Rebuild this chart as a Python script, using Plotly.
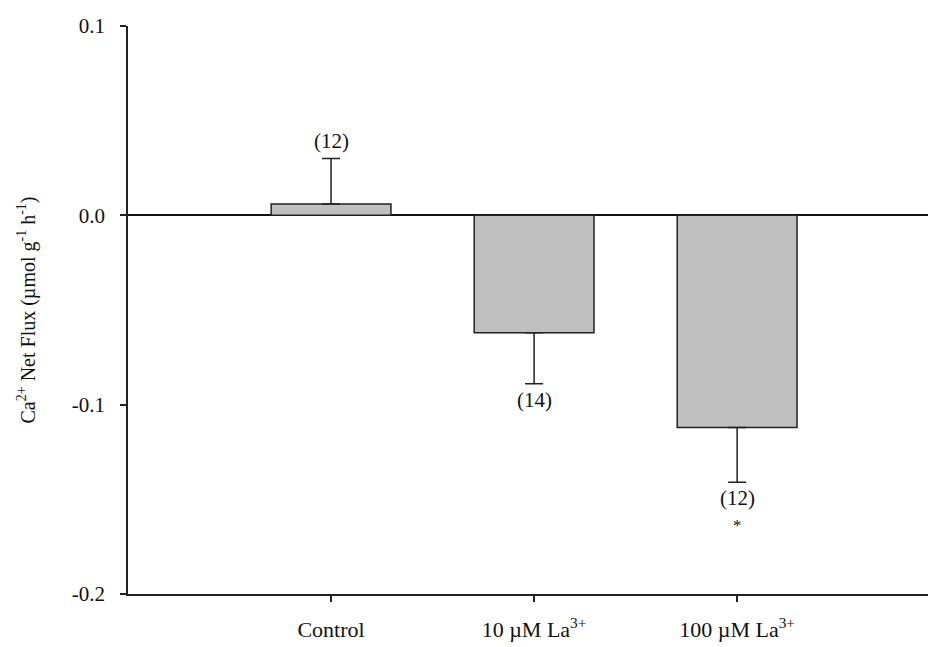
import plotly.graph_objects as go

categories = ["Control", "10 µM La<sup>3+</sup>", "100 µM La<sup>3+</sup>"]
means = [0.006, -0.062, -0.112]
err_up = [0.024, 0.0, 0.0]
err_down = [0.0, 0.027, 0.029]
n_labels = ["(12)", "(14)", "(12)"]
sig_labels = ["", "", "*"]
ytick_vals = [0.1, 0.0, -0.1, -0.2]
ytick_text = ["0.1", "0.0", "-0.1", "-0.2"]

font_family = "Liberation Serif"

fig = go.Figure()
fig.add_trace(go.Bar(
    x=list(range(len(categories))),
    y=means,
    width=0.59,
    marker=dict(color="#c0c0c0", line=dict(color="#222222", width=1.5)),
    error_y=dict(type="data", symmetric=False, array=err_up, arrayminus=err_down,
                 color="#222222", thickness=1.5, width=9),
    showlegend=False,
))

for i, (m, eu, ed, nl, sl) in enumerate(zip(means, err_up, err_down, n_labels, sig_labels)):
    if m >= 0:
        fig.add_annotation(x=i, y=m + eu, text=nl, showarrow=False,
                           yanchor="bottom", yshift=4, font=dict(size=21, color="#111111"))
    else:
        fig.add_annotation(x=i, y=m - ed, text=nl, showarrow=False,
                           yanchor="top", yshift=-2, font=dict(size=21, color="#111111"))
        if sl:
            fig.add_annotation(x=i, y=m - ed, text=sl, showarrow=False,
                               yanchor="top", yshift=-32, font=dict(size=17, color="#111111"))

fig.update_layout(
    width=928, height=647,
    margin=dict(l=128, r=0, t=26, b=53),
    plot_bgcolor="white", paper_bgcolor="white",
    font=dict(family=font_family, size=21, color="#111111"),
    xaxis=dict(
        range=[-1.0, 2.94],
        tickvals=list(range(len(categories))),
        ticktext=categories,
        showline=True, linecolor="#222222", linewidth=1.5,
        ticks="outside", ticklen=6, tickwidth=1.5, tickcolor="#222222",
        showgrid=False, zeroline=False,
        tickfont=dict(size=22),
        ticklabelstandoff=9,
    ),
    yaxis=dict(
        range=[-0.2, 0.1],
        tickvals=ytick_vals, ticktext=ytick_text,
        showline=True, linecolor="#222222", linewidth=1.5,
        ticks="outside", ticklen=6, tickwidth=1.5, tickcolor="#222222",
        showgrid=False,
        zeroline=True, zerolinecolor="#111111", zerolinewidth=1.5,
        tickfont=dict(size=21),
        ticklabelstandoff=11,
        title=dict(text="Ca<sup>2+</sup> Net Flux (µmol g<sup>-1</sup> h<sup>-1</sup>)",
                   font=dict(size=20), standoff=31),
    ),
)

fig.write_html("out.html")
